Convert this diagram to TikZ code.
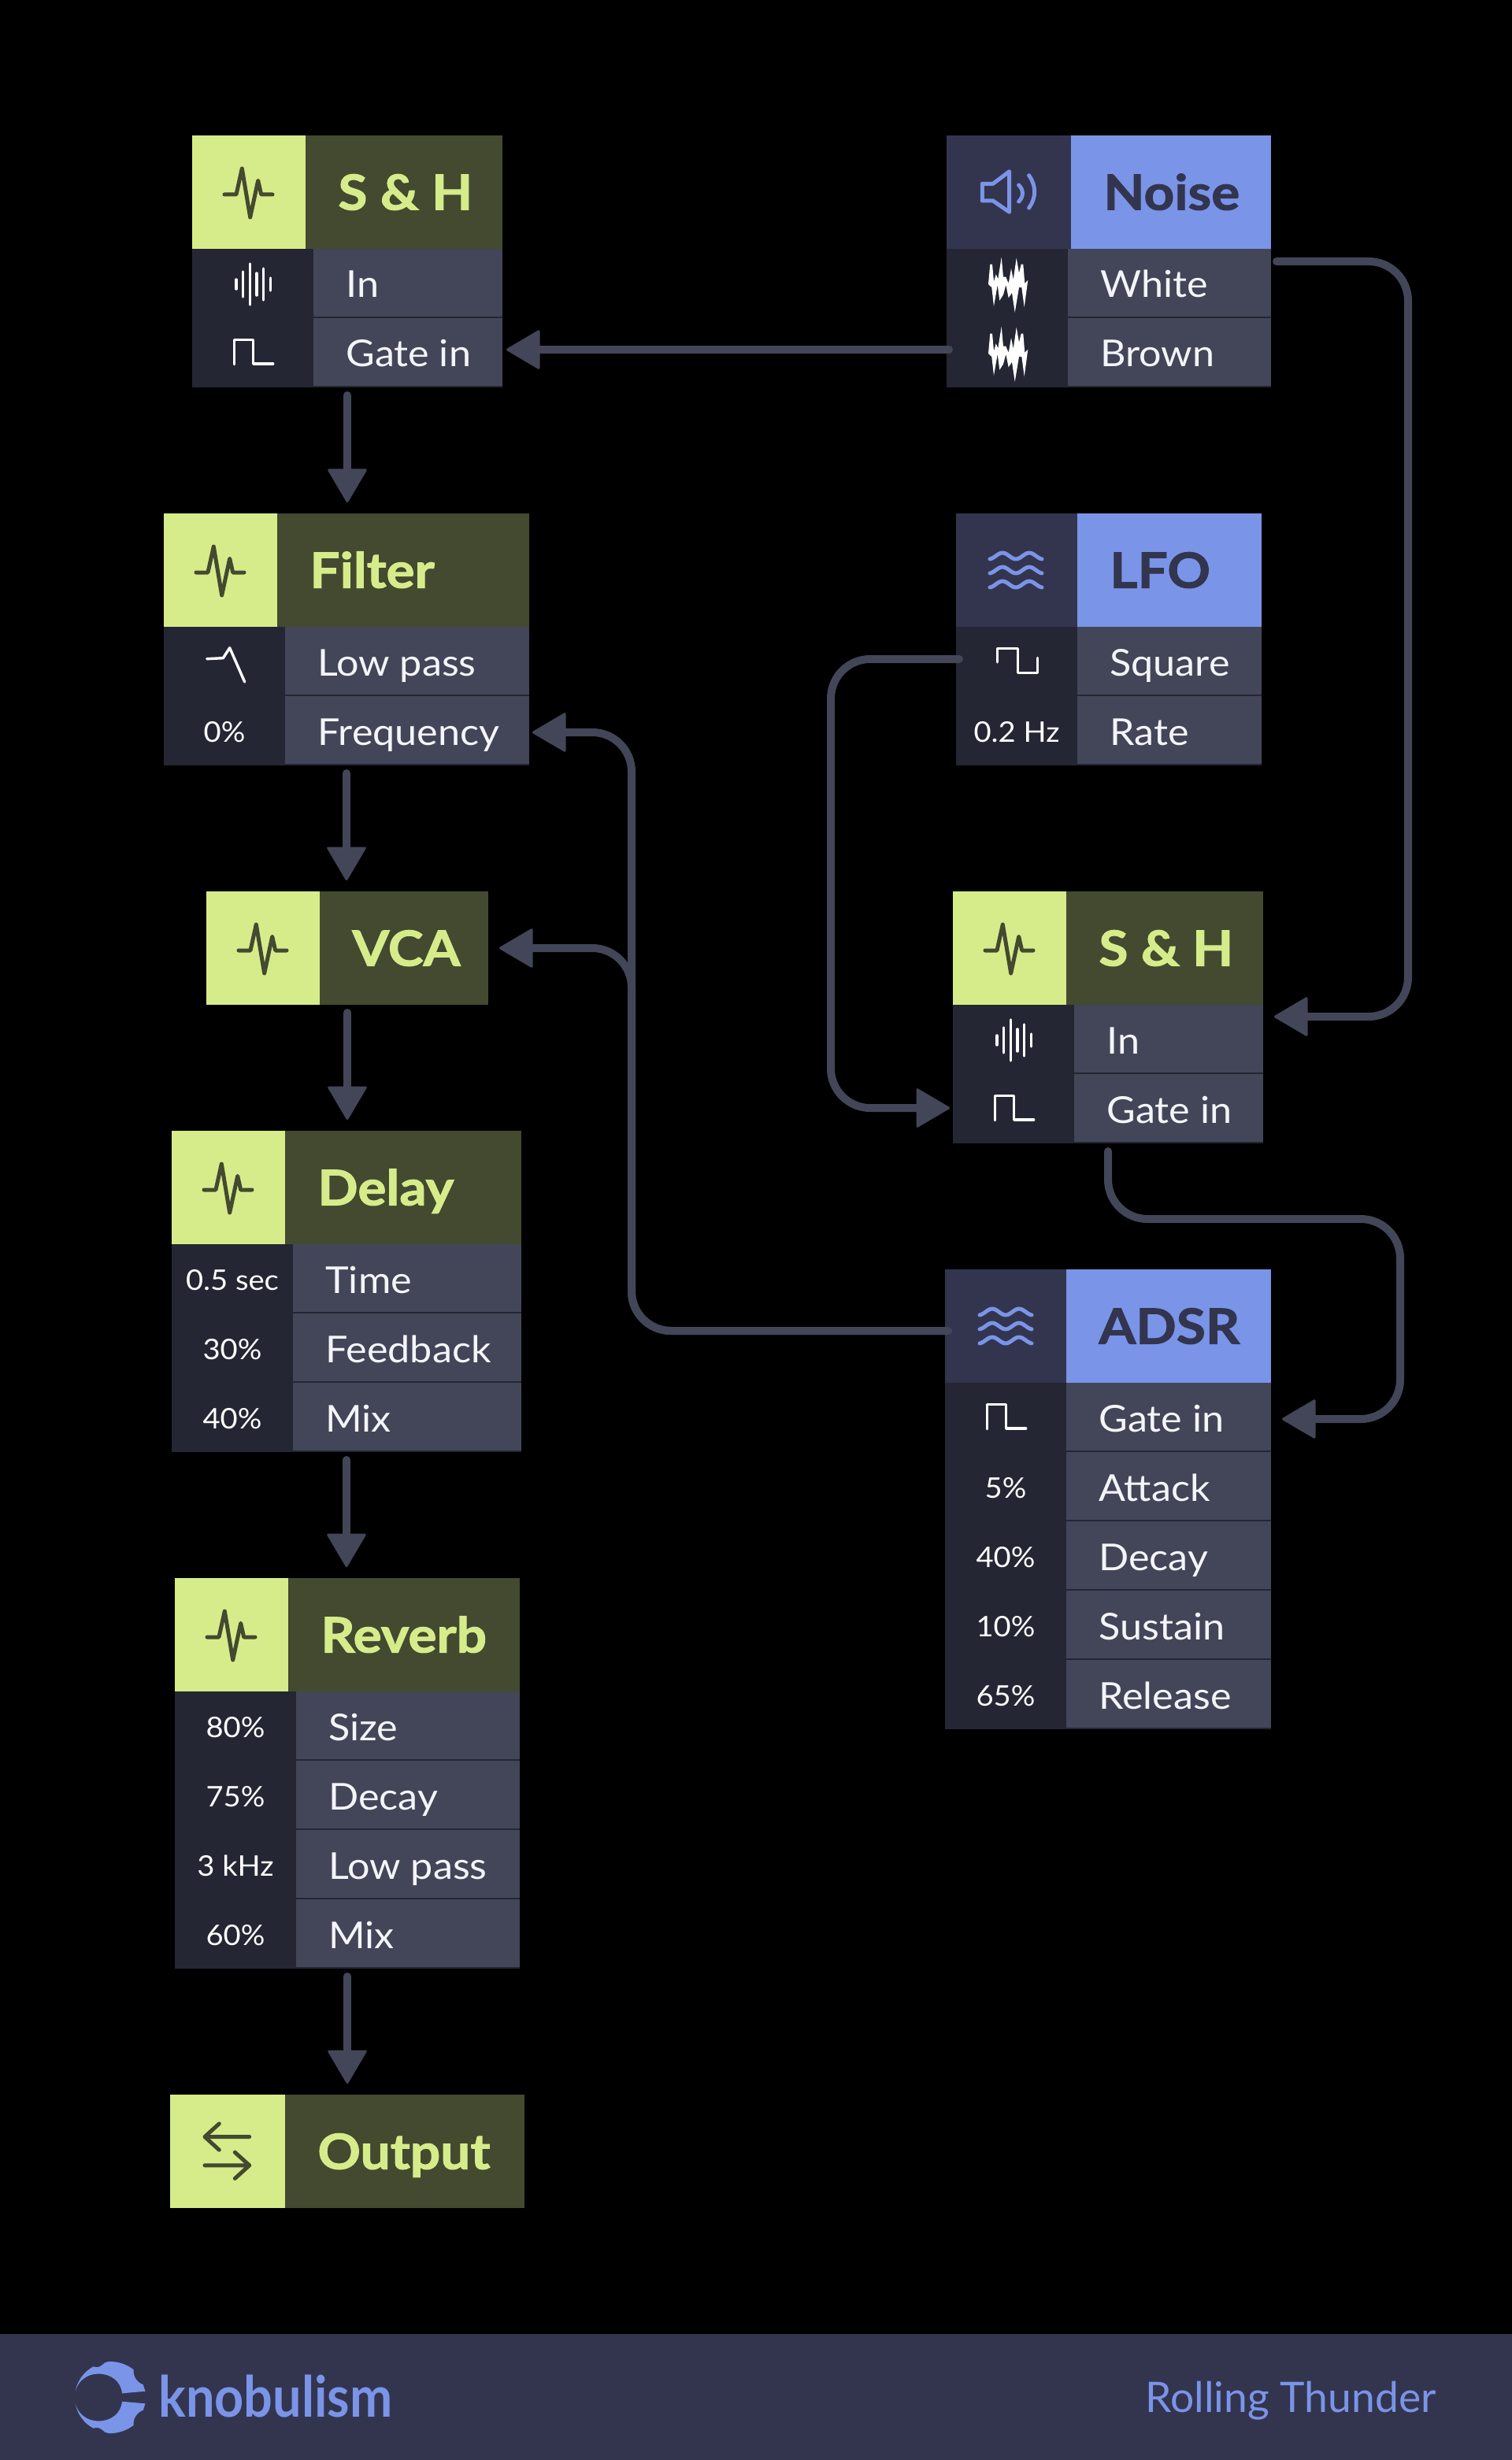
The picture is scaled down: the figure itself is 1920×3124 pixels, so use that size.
\documentclass[tikz,border=0pt]{standalone}
\usepackage{fontspec}
\setmainfont{Lato}
\newfontfamily\labelfont[FakeStretch=1.07]{Lato}
\newfontfamily\valuefont[FakeStretch=1.06]{Lato}
\newfontfamily\titlefont[FakeStretch=1.09,BoldFeatures={FakeBold=1.6}]{Lato}
\newfontfamily\brandfont[FakeStretch=0.9]{Lato}
\usetikzlibrary{arrows.meta}
\definecolor{greenicon}{HTML}{D6EC8A}
\definecolor{greenhead}{HTML}{434A30}
\definecolor{greenink}{HTML}{D6EC8A}
\definecolor{blueicon}{HTML}{33354F}
\definecolor{bluehead}{HTML}{7A94E8}
\definecolor{blueink}{HTML}{33354F}
\definecolor{rowbg}{HTML}{434658}
\definecolor{valbg}{HTML}{242633}
\definecolor{wire}{HTML}{434658}
\definecolor{oliveline}{HTML}{434A30}
\definecolor{blueline}{HTML}{7A94E8}
\definecolor{labeltext}{HTML}{F4F5FA}
\tikzset{
  panel/.style={anchor=north west,inner sep=0pt,outer sep=0pt},
  modframe/.style={panel,fill=valbg},
  titletext/.style={anchor=base west,inner sep=0pt,font=\titlefont\fontsize{31}{31}\selectfont\bfseries},
  labeltxt/.style={anchor=base west,inner sep=0pt,text=labeltext,font=\labelfont\fontsize{23.5}{24}\selectfont},
  valtxt/.style={anchor=base,inner sep=0pt,text=white,font=\valuefont\fontsize{18}{18}\selectfont},
  wirepath/.style={line width=5pt,draw=wire,line cap=round,rounded corners=25pt,
    -{Triangle[length=22pt,width=25.5pt,line width=1.5pt,round]},fill=none},
  iconstroke/.style={line width=2.5pt,line cap=round,line join=round},
  smallstroke/.style={line width=1.7pt,draw=white,line cap=round,line join=round},
  pulseicon/.pic={
    \draw[iconstroke,draw=oliveline] (-31,3)--(-16,3)--(-8.7,-30)--(1.7,32)--(11.7,-14.7)--(15.7,3)--(30,3);},
  wavesicon/.pic={
    \foreach \d in {-18,0,18}{
      \draw[iconstroke,draw=blueline] plot[smooth,samples=25,domain=-33:33] (\x,{\d-4*cos((\x+17)*10.588)});}},
  speakericon/.pic={
    \draw[iconstroke,draw=blueline] (-33.7,-10.7)--(-33.7,11)--(-20,11)--(0.7,25.3)--(0.7,-26.3)--(-20,-10.7)--cycle;
    \draw[iconstroke,draw=blueline] (12.6,-9) .. controls (19,-3) and (19,6) .. (12.6,12);
    \draw[iconstroke,draw=blueline] (25.6,-21.3) .. controls (35,-8) and (35,7) .. (25.6,20);},
  gateicon/.pic={\draw[smallstroke] (-23.7,14.7)--(-23.7,-16.3)--(0.7,-16.3)--(0.7,14)--(25.7,14);},
  squareicon/.pic={\draw[smallstroke] (-24.4,0.9)--(-24.4,-16.8)--(1.6,-16.8)--(1.6,14.2)--(26.5,14.2)--(26.5,-4.5);},
  lowpassicon/.pic={\draw[smallstroke] (-22.3,-3.3)--(-1.7,-4.3)--(6.7,-17.3)--(25.7,26);},
  barsicon/.pic={
    \draw[smallstroke] (-21,-6)--(-21,6) (-12.3,-16)--(-12.3,16) (-3.7,-26)--(-3.7,26) (5,-14)--(5,14) (13.7,-20)--(13.7,20) (22.3,-8)--(22.3,8);},
  noiseicon/.pic={
    \fill[white]
      (-25,0)--(-22.7,-25.3)--(-20,-25.3)--(-18,-3.3)--(-15.3,-12.7)--(-12.7,-6.7)--(-8.3,-34.3)--(-6,-9.3)--(-2.7,-9.3)--(0.7,-1)--(4,-20)--(6.7,-6)--(10.7,-33.3)--(14,-14.3)--(16.7,-25.3)--(19.3,-25.3)--(21.3,-1)--(25.3,-5.3)
      --(20.7,29)--(17.3,4)--(14,4)--(8.7,35.7)--(5,10.7)--(0.7,17.3)--(-2.7,0.7)--(-6,13.3)--(-10.7,20.7)--(-13.3,0.7)--(-18,28)--(-20.7,4)--cycle;},
  outputicon/.pic={
    \draw[iconstroke,draw=oliveline] (27.7,-18)--(-29,-18) (-10.7,-34.6)--(-29,-18)--(-10.7,-1.3);
    \draw[iconstroke,draw=oliveline] (-29,18.3)--(27.7,18.3) (9.3,1.7)--(27.7,18.3)--(9.3,35);},
}
% name, left, iconright, right, top, nrows, title, hue
\newcommand{\modbox}[8]{%
  \node[modframe,minimum width={(#4-#2)*0.5pt},minimum height={(144+88*#6)*0.5pt}] (#1) at (#2,#5) {};
  \node[panel,fill=#8icon,minimum width={(#3-#2)*0.5pt},minimum height=72pt] (#1icon) at (#2,#5) {};
  \node[panel,fill=#8head,minimum width={(#4-#3)*0.5pt},minimum height=72pt] (#1head) at (#3,#5) {};
  \node[titletext,text=#8ink] (#1title) at ({#3+41},{#5+94.5}) {#7};
}
% name, index, valright, right, top, label
\newcommand{\modrow}[6]{%
  \node[panel,fill=rowbg,minimum width={(#4-#3)*0.5pt},minimum height=43pt] (#1r#2) at (#3,{#5+144+88*(#2-1)}) {};
  \node[labeltxt] (#1l#2) at ({#3+41},{#5+144+88*(#2-1)+62}) {#6};
}
% name, index, left, valright, top, value
\newcommand{\modval}[6]{%
  \node[valtxt] (#1v#2) at ({(#3+#4)/2},{#5+144+88*(#2-1)+58}) {#6};
}
\begin{document}
\begin{tikzpicture}[x=0.5pt,y=-0.5pt]
\useasboundingbox (0,0) rectangle (1920,3124);
\fill[black] (0,0) rectangle (1920,3124);
\fill[blueicon] (0,2964) rectangle (1920,3124);

% S & H (left)
\modbox{shA}{244}{388}{638}{172}{2}{S \& H}{green}
\modrow{shA}{1}{398}{638}{172}{In}
\modrow{shA}{2}{398}{638}{172}{Gate in}
\pic at (316,244) {pulseicon};
\pic at (321,361) {barsicon};
\pic at (321,448) {gateicon};

% Noise
\modbox{noise}{1202}{1360}{1614}{172}{2}{Noise}{blue}
\modrow{noise}{1}{1356}{1614}{172}{White}
\modrow{noise}{2}{1356}{1614}{172}{Brown}
\pic at (1281,244) {speakericon};
\pic at (1280,361) {noiseicon};
\pic at (1280,449) {noiseicon};

% Filter
\modbox{filter}{208}{352}{672}{652}{2}{Filter}{green}
\modrow{filter}{1}{362}{672}{652}{Low pass}
\modrow{filter}{2}{362}{672}{652}{Frequency}
\modval{filter}{2}{208}{362}{652}{0\%}
\pic at (280,724) {pulseicon};
\pic at (285,840) {lowpassicon};

% LFO
\modbox{lfo}{1214}{1368}{1602}{652}{2}{LFO}{blue}
\modrow{lfo}{1}{1368}{1602}{652}{Square}
\modrow{lfo}{2}{1368}{1602}{652}{Rate}
\modval{lfo}{2}{1214}{1368}{652}{0.2 Hz}
\pic at (1290,724) {wavesicon};
\pic at (1291,840) {squareicon};

% VCA
\modbox{vca}{262}{406}{620}{1132}{0}{VCA}{green}
\pic at (334,1204) {pulseicon};

% S & H (right)
\modbox{shB}{1210}{1354}{1604}{1132}{2}{S \& H}{green}
\modrow{shB}{1}{1364}{1604}{1132}{In}
\modrow{shB}{2}{1364}{1604}{1132}{Gate in}
\pic at (1282,1204) {pulseicon};
\pic at (1287,1321) {barsicon};
\pic at (1287,1408) {gateicon};

% Delay
\modbox{delay}{218}{362}{662}{1436}{3}{Delay}{green}
\modrow{delay}{1}{372}{662}{1436}{Time}
\modrow{delay}{2}{372}{662}{1436}{Feedback}
\modrow{delay}{3}{372}{662}{1436}{Mix}
\modval{delay}{1}{218}{372}{1436}{0.5 sec}
\modval{delay}{2}{218}{372}{1436}{30\%}
\modval{delay}{3}{218}{372}{1436}{40\%}
\pic at (290,1508) {pulseicon};

% ADSR
\modbox{adsr}{1200}{1354}{1614}{1612}{5}{ADSR}{blue}
\modrow{adsr}{1}{1354}{1614}{1612}{Gate in}
\modrow{adsr}{2}{1354}{1614}{1612}{Attack}
\modrow{adsr}{3}{1354}{1614}{1612}{Decay}
\modrow{adsr}{4}{1354}{1614}{1612}{Sustain}
\modrow{adsr}{5}{1354}{1614}{1612}{Release}
\modval{adsr}{2}{1200}{1354}{1612}{5\%}
\modval{adsr}{3}{1200}{1354}{1612}{40\%}
\modval{adsr}{4}{1200}{1354}{1612}{10\%}
\modval{adsr}{5}{1200}{1354}{1612}{65\%}
\pic at (1277,1684) {wavesicon};
\pic at (1277,1800) {gateicon};

% Reverb
\modbox{reverb}{222}{366}{660}{2004}{4}{Reverb}{green}
\modrow{reverb}{1}{376}{660}{2004}{Size}
\modrow{reverb}{2}{376}{660}{2004}{Decay}
\modrow{reverb}{3}{376}{660}{2004}{Low pass}
\modrow{reverb}{4}{376}{660}{2004}{Mix}
\modval{reverb}{1}{222}{376}{2004}{80\%}
\modval{reverb}{2}{222}{376}{2004}{75\%}
\modval{reverb}{3}{222}{376}{2004}{3 kHz}
\modval{reverb}{4}{222}{376}{2004}{60\%}
\pic at (294,2076) {pulseicon};

% Output
\modbox{output}{216}{362}{666}{2660}{0}{Output}{green}
\pic at (289,2731.5) {outputicon};

% routing rails
\coordinate (railWhite) at (1788,0);
\coordinate (railSquare) at (1055,0);
\coordinate (railGate) at (1778,1548);
\coordinate (railAdsr) at (802,0);

% straight chain
\draw[wirepath,shorten <=5pt,shorten >=7pt] (shA.south) -- (shA.south |- filter.north);
\draw[wirepath,shorten <=5pt,shorten >=7pt] (filter.south) -- (filter.south |- vca.north);
\draw[wirepath,shorten <=5pt,shorten >=7pt] (vca.south) -- (vca.south |- delay.north);
\draw[wirepath,shorten <=5pt,shorten >=7pt] (delay.south) -- (delay.south |- reverb.north);
\draw[wirepath,shorten <=5pt,shorten >=7pt] (reverb.south) -- (reverb.south |- output.north);

% Noise Brown -> S&H Gate in
\draw[wirepath] ([xshift=1.5pt,yshift=1.5pt]noise.west |- noiser2.west) -- ([xshift=2.5pt,yshift=1.5pt]shAr2.east);
% Noise White -> S&H In
\draw[wirepath] ([xshift=3.5pt,yshift=-8pt]noiser1.north east) -- ([yshift=-8pt]noiser1.north east -| railWhite)
  -- ([yshift=-7.5pt]shBr1.north east -| railWhite) -- ([xshift=7pt,yshift=-7.5pt]shBr1.north east);
% LFO Square -> S&H Gate in
\draw[wirepath] ([xshift=2pt,yshift=1pt]lfo.west |- lfor1.west) -- ([yshift=1pt]lfor1.west -| railSquare)
  -- (shBr2.west -| railSquare) -- ([xshift=-2pt]shB.west |- shBr2.west);
% S&H -> ADSR Gate in
\draw[wirepath] ([yshift=-5pt]shB.south) -- (shB.south |- railGate) -- (railGate)
  -- ([yshift=-1.5pt]adsrr1.east -| railGate) -- ([xshift=7pt,yshift=-1.5pt]adsrr1.east);
% ADSR -> Filter Frequency
\draw[wirepath] ([xshift=2pt,yshift=-3pt]adsr.west |- adsricon.center) -- ([yshift=-3pt]adsricon.center -| railAdsr)
  -- ([yshift=-1.5pt]filterr2.east -| railAdsr) -- ([xshift=2pt,yshift=-1.5pt]filterr2.east);
% ADSR -> VCA
\draw[wirepath] ([xshift=2pt,yshift=-3pt]adsr.west |- adsricon.center) -- ([yshift=-3pt]adsricon.center -| railAdsr)
  -- (vca.east -| railAdsr) -- ([xshift=7pt]vca.east);

% footer
\fill[blueline] (95.7,3036.7)
  .. controls (98,3024) and (106,3012) .. (118.6,3005.3)
  .. controls (123,3007) and (127,3006) .. (130,3003)
  .. controls (132,3001) and (135,2999) .. (137.8,2999)
  .. controls (149,2998.5) and (160,3002) .. (169.5,3009)
  .. controls (169,3017) and (173,3025) .. (181.8,3028.3)
  -- (184.5,3036.7) -- (155,3039.3)
  .. controls (153.5,3024) and (141,3014.5) .. (125,3014.5)
  .. controls (110,3014.5) and (99,3024) .. (95.7,3036.7) -- cycle;
\fill[blueline] (95.7,3052.3)
  .. controls (98,3065) and (106,3077) .. (118.6,3083.7)
  .. controls (123,3082) and (127,3083) .. (130,3086)
  .. controls (132,3088) and (135,3090) .. (137.8,3090)
  .. controls (149,3090.5) and (160,3087) .. (169.5,3080)
  .. controls (169,3072) and (173,3064) .. (181.8,3060.7)
  -- (184.5,3052.3) -- (155,3049.7)
  .. controls (153.5,3065) and (141,3074.5) .. (125,3074.5)
  .. controls (110,3074.5) and (99,3065) .. (95.7,3052.3) -- cycle;
\node[anchor=base west,inner sep=0pt,text=blueline,font=\brandfont\fontsize{36}{36}\selectfont\bfseries] (brand) at (201,3069) {knobulism};
\node[anchor=base east,inner sep=0pt,text=blueline,font=\fontsize{26.7}{27}\selectfont] (patch) at (1824,3063) {Rolling Thunder};
\end{tikzpicture}
\end{document}
